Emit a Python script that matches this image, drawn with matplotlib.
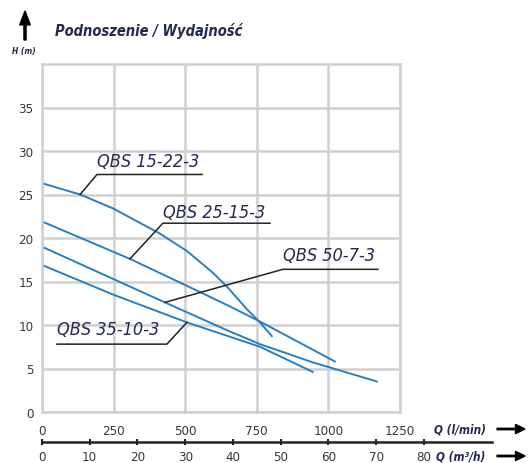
import numpy as np
import matplotlib
matplotlib.use('Agg')
import matplotlib.pyplot as plt

plt.rcParams['font.family'] = ['DejaVu Sans']
plt.rcParams['font.stretch'] = 'condensed'

# Pump curves: flow Q (l/min) -> head H (m)
q_15_22 = [0, 133, 248, 412, 506, 597, 646, 716, 761, 803]
h_15_22 = [26.3, 25.0, 23.4, 20.5, 18.5, 16.0, 14.4, 11.8, 10.3, 8.7]

q_25_15 = [0, 307, 506, 646, 761, 1023]
h_25_15 = [21.9, 17.6, 14.5, 12.3, 10.4, 5.8]

q_50_7 = [0, 429, 646, 761, 946, 1170]
h_50_7 = [19.0, 12.6, 9.4, 7.8, 5.7, 3.5]

q_35_10 = [0, 248, 506, 761, 946]
h_35_10 = [16.9, 13.5, 10.3, 7.5, 4.6]

x_ticks = [0, 250, 500, 750, 1000, 1250]
y_ticks = [0, 5, 10, 15, 20, 25, 30, 35]
m3h_ticks = [0, 10, 20, 30, 40, 50, 60, 70, 80]

W, H = 528, 464
curve_color = '#2a7fc1'
text_color = '#23294f'
tick_color = '#3a3440'
grid_color = '#d0d0d0'


def fx(px):
    return px / W


def fy(py):
    return 1 - py / H


fig = plt.figure(figsize=(W / 100, H / 100), dpi=100)
ax = fig.add_axes([fx(42), fy(413), (400 - 42) / W, (413 - 65) / H])
ax.set_xlim(0, 1250)
ax.set_ylim(0, 40)
ax.set_xticks(x_ticks)
ax.set_yticks(y_ticks)
ax.grid(True, color=grid_color, linewidth=1.8)
ax.set_axisbelow(True)
for s in ax.spines.values():
    s.set_color(grid_color)
    s.set_linewidth(1.8)
ax.tick_params(axis='both', length=0, labelsize=9.5, colors=tick_color)
ax.tick_params(axis='x', pad=9)
ax.tick_params(axis='y', pad=6)

for q, h in [(q_15_22, h_15_22), (q_25_15, h_25_15), (q_50_7, h_50_7), (q_35_10, h_35_10)]:
    ax.plot(q, h, color=curve_color, linewidth=1.4, solid_capstyle='round')

# labels with underline and leader
labels = [
    ('QBS 15-22-3', 192, 28.8, 559, 27.3, 133, 25.0, 'left'),
    ('QBS 25-15-3', 422, 23.0, 796, 21.7, 307, 17.6, 'left'),
    ('QBS 50-7-3', 841, 18.1, 1173, 16.4, 429, 12.6, 'left'),
    ('QBS 35-10-3', 52, 9.5, 436, 7.8, 506, 10.3, 'right'),
]
for txt, tx, ty, ux, uy, px_, py_, side in labels:
    ax.text(tx, ty, txt, fontsize=13, style='italic', color=text_color,
            ha='left', va='center')
    if side == 'left':
        ax.plot([ux, tx, px_], [uy, uy, py_], color='#222222', linewidth=1.1)
    else:
        ax.plot([tx, ux, px_], [uy, uy, py_], color='#222222', linewidth=1.1)

# second flow axis in m3/h
lpm_per_m3h = 1000 / 60
ax2 = fig.add_axes([fx(42), fy(443), (492 - 42) / W, 0.0001])
ax2.set_xlim(0, (492 - 42) / 358 * 1250 / lpm_per_m3h)
ax2.set_ylim(0, 1)
for k in ['top', 'left', 'right']:
    ax2.spines[k].set_visible(False)
ax2.spines['bottom'].set_linewidth(1.8)
ax2.spines['bottom'].set_color('#222222')
ax2.set_yticks([])
ax2.set_xticks(m3h_ticks)
ax2.tick_params(axis='x', direction='inout', length=5, width=1.5, color='#222222',
                labelsize=9.5, labelcolor=tick_color, pad=3)
ax2.patch.set_visible(False)

# axis captions and arrows
fig.text(fx(434), fy(430), 'Q (l/min)', fontsize=8.5, style='italic', weight='bold',
         color=text_color, va='center', ha='left')
fig.text(fx(436), fy(457), 'Q (m³/h)', fontsize=8.5, style='italic', weight='bold',
         color=text_color, va='center', ha='left')
for yy in [430, 457]:
    fig.patches.append(matplotlib.patches.FancyArrow(
        fx(497), fy(yy), fx(525) - fx(497), 0, width=0.003, head_width=0.02,
        head_length=0.018, length_includes_head=True, color='black',
        transform=fig.transFigure, figure=fig))

fig.patches.append(matplotlib.patches.FancyArrow(
    fx(25), fy(41), 0, fy(12) - fy(41), width=0.004, head_width=0.02,
    head_length=0.03, length_includes_head=True, color='black',
    transform=fig.transFigure, figure=fig))
fig.text(fx(12), fy(52), 'H (m)', fontsize=6, style='italic', weight='bold',
         color=text_color, va='center', ha='left')
fig.text(fx(55), fy(31), 'Podnoszenie / Wydajność', fontsize=10.5, style='italic',
         weight='bold', color=text_color, va='center', ha='left')

fig.savefig('out.png', dpi=100, facecolor='white')
